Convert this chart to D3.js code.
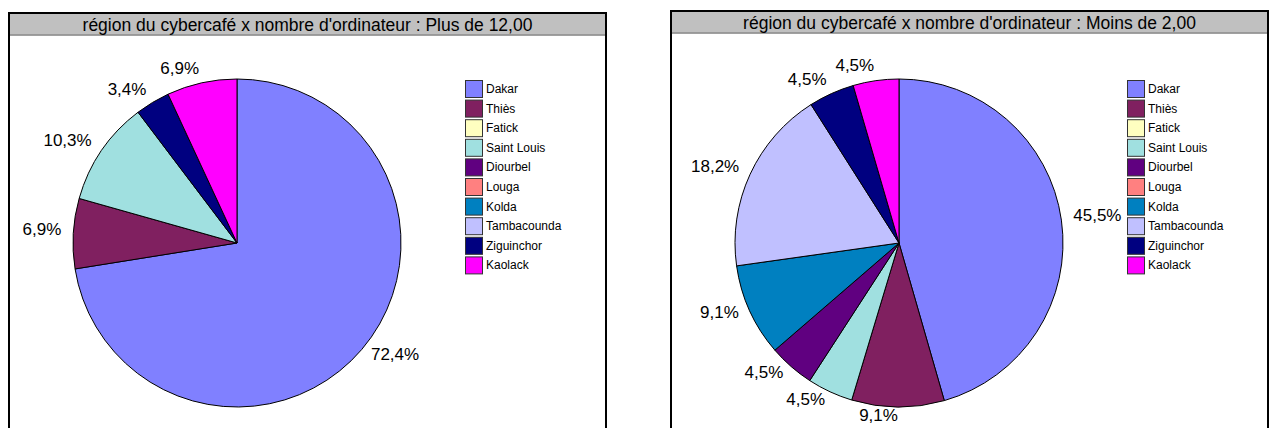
<!DOCTYPE html>
<html>
<head>
<meta charset="utf-8">
<script src="https://cdn.jsdelivr.net/npm/d3@7"></script>
<style>
  html, body { margin: 0; padding: 0; background: #fff; }
  svg { display: block; }
  text { font-family: "Liberation Sans", Arial, sans-serif; fill: #000; }
</style>
</head>
<body>
<div id="chart"></div>
<script>
// ---- data ----
const regions = ["Dakar", "Thiès", "Fatick", "Saint Louis", "Diourbel", "Louga", "Kolda", "Tambacounda", "Ziguinchor", "Kaolack"];
const regionColors = ["#8080ff", "#802060", "#ffffc0", "#a0e0e0", "#600080", "#ff8080", "#0080c0", "#c0c0ff", "#000080", "#ff00ff"];
const titles = [
  "région du cybercafé x nombre d'ordinateur : Plus de 12,00",
  "région du cybercafé x nombre d'ordinateur : Moins de 2,00"
];
const plusDe12 = [72.4, 6.9, 0, 10.3, 0, 0, 0, 0, 3.4, 6.9];
const moinsDe2 = [45.5, 9.1, 0, 4.5, 4.5, 0, 9.1, 18.2, 4.5, 4.5];

// ---- layout ----
const W = 1271, H = 428;
const panels = [
  { x: 9, y: 13, title: titles[0], values: plusDe12 },
  { x: 671, y: 11, title: titles[1], values: moinsDe2 }
];
const panelW = 597;
const titleH = 21.5;
const pieDX = 228, pieCY = 243, radius = 164;
const labelGap = 12;
const legendDX = 456, legendTop = 80, legendStep = 19.6, boxW = 17, boxH = 17;

const fmt = v => d3.format(".1f")(v).replace(".", ",") + "%";

const svg = d3.select("#chart").append("svg")
  .attr("width", W).attr("height", H);

const pie = d3.pie().sort(null).value(d => d.value);
const arc = d3.arc().innerRadius(0).outerRadius(radius);
const color = d3.scaleOrdinal().domain(regions).range(regionColors);

panels.forEach(p => {
  const g = svg.append("g");
  // frame
  g.append("rect")
    .attr("x", p.x).attr("y", p.y)
    .attr("width", panelW).attr("height", H + 20)
    .attr("fill", "#fff").attr("stroke", "#000").attr("stroke-width", 2);
  // title bar
  g.append("rect")
    .attr("x", p.x + 1).attr("y", p.y + 1)
    .attr("width", panelW - 2).attr("height", titleH - 1)
    .attr("fill", "#c0c0c0");
  g.append("line")
    .attr("x1", p.x + 1).attr("x2", p.x + panelW - 1)
    .attr("y1", p.y + titleH + 0.5).attr("y2", p.y + titleH + 0.5)
    .attr("stroke", "#808080").attr("stroke-width", 1.5);
  g.append("text")
    .attr("x", p.x + panelW / 2).attr("y", p.y + 1 + titleH / 2)
    .attr("text-anchor", "middle").attr("dominant-baseline", "central")
    .style("font-size", "17.5px")
    .text(p.title);

  // pie
  const data = regions.map((r, i) => ({ region: r, value: p.values[i] }));
  const arcs = pie(data);
  const cx = p.x + pieDX, cy = pieCY;
  const pg = g.append("g").attr("transform", `translate(${cx},${cy})`);
  pg.selectAll("path.slice")
    .data(arcs.filter(d => d.data.value > 0))
    .join("path")
    .attr("class", "slice")
    .attr("d", arc)
    .attr("fill", d => color(d.data.region))
    .attr("stroke", "#000").attr("stroke-width", 1)
    .attr("stroke-linejoin", "round");

  // labels
  pg.selectAll("text.lbl")
    .data(arcs.filter(d => d.data.value > 0))
    .join("text")
    .attr("class", "lbl")
    .each(function (d) {
      const a = (d.startAngle + d.endAngle) / 2;
      const R = radius + labelGap;
      const x = Math.sin(a) * R, y = -Math.cos(a) * R;
      d3.select(this)
        .attr("x", x).attr("y", y - 3)
        .attr("text-anchor", Math.sin(a) > 0 ? "start" : "end")
        .attr("dominant-baseline", "central");
    })
    .style("font-size", "17px")
    .text(d => fmt(d.data.value));

  // legend
  const lg = g.append("g")
    .attr("transform", `translate(${p.x + legendDX},${legendTop})`);
  const items = lg.selectAll("g.item").data(regions).join("g")
    .attr("class", "item")
    .attr("transform", (d, i) => `translate(0,${i * legendStep})`);
  items.append("rect")
    .attr("x", 0.5).attr("y", 0.5)
    .attr("width", boxW).attr("height", boxH)
    .attr("fill", d => color(d))
    .attr("stroke", "#333").attr("stroke-width", 1);
  items.append("text")
    .attr("x", boxW + 4).attr("y", boxH / 2 + 0.5)
    .attr("dominant-baseline", "central")
    .style("font-size", "12px")
    .text(d => d);
});
</script>
</body>
</html>
